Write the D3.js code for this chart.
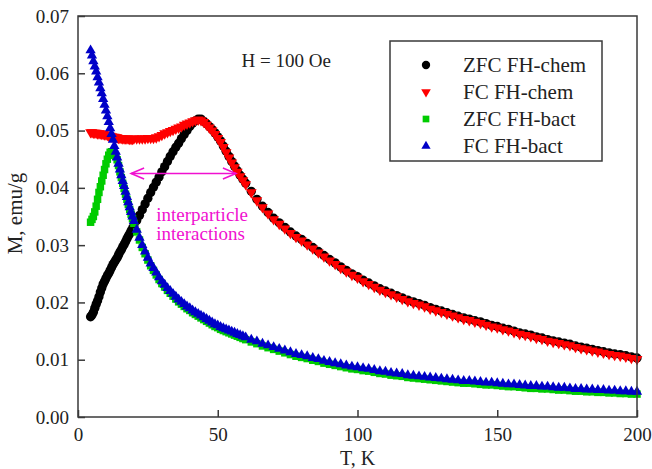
<!DOCTYPE html>
<html>
<head>
<meta charset="utf-8">
<script src="https://cdn.jsdelivr.net/npm/d3@7"></script>
<style>
  body { margin: 0; background: #fff; }
  svg { display: block; }
  svg text { font-family: "Liberation Serif", "Times New Roman", Times, Tinos, "Noto Serif", "Nimbus Roman", FreeSerif, "DejaVu Serif", serif; fill: #222; }
</style>
</head>
<body>
<svg id="chart" width="652" height="469"></svg>
<script>
// Temperature points (K) shared by all four measurement runs
const temperature = [
  4.5, 5, 5.5, 6, 6.5, 7, 7.5, 8, 8.5, 9, 9.5, 10, 10.5, 11, 11.5, 12,
  12.5, 13, 13.5, 14, 14.5, 15, 15.5, 16, 16.5, 17, 17.5, 18, 18.5, 19, 19.5, 20,
  21, 22, 23, 24, 25, 26, 27, 28, 29, 30, 31, 32, 33, 34, 35, 36,
  37, 38, 39, 40, 41, 42, 43, 44, 45, 46, 47, 48, 49, 50, 51, 52,
  53, 54, 55, 56, 57, 58, 59, 60,
  62, 64, 66, 68, 70, 72, 74, 76, 78, 80,
  82, 84, 86, 88, 90, 92, 94, 96, 98, 100,
  102, 104, 106, 108, 110, 112, 114, 116, 118, 120,
  122, 124, 126, 128, 130, 132, 134, 136, 138, 140,
  142, 144, 146, 148, 150, 152, 154, 156, 158, 160,
  162, 164, 166, 168, 170, 172, 174, 176, 178, 180,
  182, 184, 186, 188, 190, 192, 194, 196, 198, 200
];

// Magnetization, emu/g
const zfcChem = [
  0.0175, 0.0178, 0.0183, 0.0190, 0.0197, 0.0203, 0.0210, 0.0218,
  0.0225, 0.0232, 0.0237, 0.0242, 0.0247, 0.0251, 0.0256, 0.0261,
  0.0266, 0.0270, 0.0274, 0.0278, 0.0283, 0.0288, 0.0292, 0.0297,
  0.0301, 0.0306, 0.0311, 0.0316, 0.0320, 0.0325, 0.0329, 0.0334,
  0.0343, 0.0352, 0.0362, 0.0372, 0.0382, 0.0392, 0.0401, 0.0410,
  0.0419, 0.0428, 0.0437, 0.0446, 0.0455, 0.0463, 0.0471, 0.0478,
  0.0486, 0.0493, 0.0500, 0.0507, 0.0513, 0.0517, 0.0520, 0.0520,
  0.0516, 0.0512, 0.0507, 0.0502, 0.0496, 0.0489, 0.0482, 0.0473,
  0.0464, 0.0455, 0.0446, 0.0438, 0.0430, 0.0422, 0.0415, 0.0408,
  0.0394, 0.0380, 0.0368, 0.0357, 0.0347, 0.0339, 0.0331, 0.0323, 0.0316, 0.0310,
  0.0303, 0.0296, 0.0289, 0.0282, 0.0275, 0.0269, 0.0262, 0.0256, 0.0250, 0.0245,
  0.0239, 0.0234, 0.0229, 0.0224, 0.0220, 0.0216, 0.0212, 0.0208, 0.0204, 0.0201,
  0.0198, 0.0195, 0.0191, 0.0188, 0.0185, 0.0182, 0.0179, 0.0176, 0.0173, 0.0171,
  0.0168, 0.0166, 0.0163, 0.0160, 0.0158, 0.0155, 0.0153, 0.0150, 0.0147, 0.0145,
  0.0143, 0.0140, 0.0138, 0.0135, 0.0133, 0.0131, 0.0129, 0.0127, 0.0124, 0.0122,
  0.0120, 0.0118, 0.0116, 0.0114, 0.0112, 0.0110, 0.0109, 0.0107, 0.0105, 0.0103
];

const fcChem = [
  0.0497, 0.0497, 0.0496, 0.0496, 0.0496, 0.0495, 0.0495, 0.0495,
  0.0494, 0.0494, 0.0493, 0.0493, 0.0492, 0.0491, 0.0491, 0.0490,
  0.0489, 0.0489, 0.0488, 0.0488, 0.0487, 0.0487, 0.0487, 0.0486,
  0.0486, 0.0486, 0.0486, 0.0486, 0.0485, 0.0485, 0.0485, 0.0486,
  0.0486, 0.0486, 0.0486, 0.0486, 0.0487, 0.0487, 0.0487, 0.0488,
  0.0490, 0.0492, 0.0495, 0.0497, 0.0499, 0.0501, 0.0503, 0.0505,
  0.0507, 0.0510, 0.0512, 0.0514, 0.0516, 0.0518, 0.0519, 0.0518,
  0.0515, 0.0510, 0.0505, 0.0500, 0.0494, 0.0487, 0.0480, 0.0471,
  0.0462, 0.0453, 0.0444, 0.0436, 0.0428, 0.0420, 0.0413, 0.0406,
  0.0392, 0.0378, 0.0366, 0.0355, 0.0345, 0.0337, 0.0329, 0.0321, 0.0314, 0.0308,
  0.0301, 0.0294, 0.0287, 0.0280, 0.0273, 0.0267, 0.0260, 0.0254, 0.0248, 0.0243,
  0.0237, 0.0232, 0.0227, 0.0222, 0.0218, 0.0214, 0.0210, 0.0206, 0.0202, 0.0199,
  0.0196, 0.0193, 0.0189, 0.0186, 0.0183, 0.0180, 0.0177, 0.0174, 0.0171, 0.0169,
  0.0166, 0.0164, 0.0161, 0.0158, 0.0156, 0.0153, 0.0151, 0.0148, 0.0145, 0.0143,
  0.0141, 0.0138, 0.0136, 0.0133, 0.0131, 0.0129, 0.0127, 0.0125, 0.0122, 0.0120,
  0.0118, 0.0116, 0.0114, 0.0112, 0.0110, 0.0108, 0.0107, 0.0105, 0.0103, 0.0101
];

const zfcBact = [
  0.0340, 0.0345, 0.0350, 0.0358, 0.0368, 0.0380, 0.0392, 0.0402,
  0.0412, 0.0422, 0.0432, 0.0442, 0.0450, 0.0457, 0.0462, 0.0463,
  0.0462, 0.0459, 0.0455, 0.0449, 0.0439, 0.0428, 0.0418, 0.0408,
  0.0399, 0.0389, 0.0380, 0.0371, 0.0362, 0.0354, 0.0346, 0.0338,
  0.0323, 0.0309, 0.0296, 0.0285, 0.0274, 0.0264, 0.0256, 0.0248,
  0.0240, 0.0233, 0.0227, 0.0221, 0.0216, 0.0211, 0.0206, 0.0201,
  0.0197, 0.0193, 0.0189, 0.0186, 0.0182, 0.0179, 0.0176, 0.0173,
  0.0170, 0.0167, 0.0164, 0.0161, 0.0158, 0.0156, 0.0153, 0.0151,
  0.0149, 0.0147, 0.0145, 0.0143, 0.0141, 0.0139, 0.0137, 0.0135,
  0.0131, 0.0128, 0.0124, 0.0121, 0.0118, 0.0115, 0.0112, 0.0109, 0.0106, 0.0104,
  0.0102, 0.0099, 0.0097, 0.0094, 0.0092, 0.0090, 0.0088, 0.0086, 0.0084, 0.0083,
  0.0081, 0.0080, 0.0078, 0.0076, 0.0075, 0.0073, 0.0072, 0.0071, 0.0069, 0.0068,
  0.0067, 0.0066, 0.0065, 0.0064, 0.0063, 0.0062, 0.0061, 0.0060, 0.0059, 0.0059,
  0.0058, 0.0057, 0.0056, 0.0056, 0.0055, 0.0054, 0.0053, 0.0053, 0.0052, 0.0051,
  0.0050, 0.0050, 0.0049, 0.0049, 0.0048, 0.0047, 0.0047, 0.0046, 0.0045, 0.0045,
  0.0044, 0.0044, 0.0043, 0.0043, 0.0042, 0.0042, 0.0041, 0.0041, 0.0040, 0.0040
];

const fcBact = [
  0.0640, 0.0631, 0.0621, 0.0612, 0.0603, 0.0593, 0.0584, 0.0574,
  0.0565, 0.0555, 0.0545, 0.0535, 0.0525, 0.0515, 0.0504, 0.0494,
  0.0484, 0.0473, 0.0463, 0.0453, 0.0442, 0.0432, 0.0422, 0.0412,
  0.0403, 0.0393, 0.0384, 0.0375, 0.0366, 0.0358, 0.0350, 0.0342,
  0.0327, 0.0313, 0.0300, 0.0289, 0.0278, 0.0268, 0.0260, 0.0252,
  0.0244, 0.0237, 0.0231, 0.0225, 0.0220, 0.0215, 0.0210, 0.0205,
  0.0201, 0.0197, 0.0193, 0.0190, 0.0186, 0.0183, 0.0180, 0.0177,
  0.0174, 0.0171, 0.0168, 0.0165, 0.0162, 0.0160, 0.0157, 0.0155,
  0.0153, 0.0151, 0.0149, 0.0147, 0.0145, 0.0143, 0.0141, 0.0139,
  0.0135, 0.0132, 0.0128, 0.0125, 0.0122, 0.0119, 0.0116, 0.0113, 0.0110, 0.0108,
  0.0106, 0.0103, 0.0101, 0.0098, 0.0096, 0.0094, 0.0092, 0.0090, 0.0088, 0.0087,
  0.0085, 0.0084, 0.0082, 0.0080, 0.0079, 0.0077, 0.0076, 0.0075, 0.0073, 0.0072,
  0.0071, 0.0070, 0.0069, 0.0068, 0.0067, 0.0066, 0.0065, 0.0064, 0.0063, 0.0063,
  0.0062, 0.0061, 0.0060, 0.0060, 0.0059, 0.0058, 0.0057, 0.0057, 0.0056, 0.0055,
  0.0054, 0.0054, 0.0053, 0.0053, 0.0052, 0.0051, 0.0051, 0.0050, 0.0049, 0.0049,
  0.0048, 0.0048, 0.0047, 0.0047, 0.0046, 0.0046, 0.0045, 0.0045, 0.0044, 0.0044
];

const seriesNames = ["ZFC FH-chem", "FC FH-chem", "ZFC FH-bact", "FC FH-bact"];
const xTicks = [0, 50, 100, 150, 200];
const yTicks = [0.00, 0.01, 0.02, 0.03, 0.04, 0.05, 0.06, 0.07];

// Annotation: field label, and the arrow marking the interaction shift (data units)
const fieldLabel = "H = 100 Oe";
const arrowSpan = [19, 56.5];
const arrowLevel = 0.0425;
const noteLines = ["interparticle", "interactions"];

const series = [
  { name: seriesNames[0], values: zfcChem, color: "#000000", symbol: d3.symbolCircle, size: 68, rotate: 0 },
  { name: seriesNames[1], values: fcChem,  color: "#ff0000", symbol: d3.symbolTriangle, size: 50, rotate: 180 },
  { name: seriesNames[2], values: zfcBact, color: "#00cc00", symbol: d3.symbolSquare, size: 56, rotate: 0 },
  { name: seriesNames[3], values: fcBact,  color: "#0000c8", symbol: d3.symbolTriangle, size: 46, rotate: 0 }
];

const serif = "'Liberation Serif', 'Times New Roman', Times, Tinos, 'Noto Serif', 'Nimbus Roman', FreeSerif, 'DejaVu Serif', serif";
const svg = d3.select("#chart");
const plot = { left: 78, right: 637, top: 16, bottom: 417 };

const x = d3.scaleLinear().domain([0, 200]).range([plot.left, plot.right]);
const y = d3.scaleLinear().domain([0, 0.07]).range([plot.bottom, plot.top]);

const axisColor = "#3a3a3a";

// Data markers
series.forEach(s => {
  const sym = d3.symbol().type(s.symbol).size(s.size);
  svg.append("g")
    .selectAll("path")
    .data(temperature.map((t, i) => [t, s.values[i]]))
    .join("path")
    .attr("d", sym)
    .attr("fill", s.color)
    .attr("transform", d => `translate(${x(d[0])},${y(d[1])}) rotate(${s.rotate})`);
});

// Axes with inward ticks
const xAxis = d3.axisBottom(x).tickValues(xTicks).tickFormat(d3.format("d"))
  .tickSizeInner(-7).tickSizeOuter(0).tickPadding(11);
const yAxis = d3.axisLeft(y).tickValues(yTicks).tickFormat(d3.format(".2f"))
  .tickSizeInner(-7).tickSizeOuter(0).tickPadding(9);

const gx = svg.append("g").attr("transform", `translate(0,${plot.bottom})`).call(xAxis);
const gy = svg.append("g").attr("transform", `translate(${plot.left},0)`).call(yAxis);
[gx, gy].forEach(g => {
  g.attr("font-family", serif).attr("font-size", 19);
  g.select(".domain").remove();
  g.selectAll(".tick line").attr("stroke", axisColor).attr("stroke-width", 1.5);
  g.selectAll(".tick text").attr("fill", "#222");
});

// Plot frame
svg.append("rect")
  .attr("x", plot.left).attr("y", plot.top)
  .attr("width", plot.right - plot.left).attr("height", plot.bottom - plot.top)
  .attr("fill", "none").attr("stroke", axisColor).attr("stroke-width", 1.5);

// Axis titles
svg.append("text")
  .attr("x", (plot.left + plot.right) / 2).attr("y", 465)
  .attr("text-anchor", "middle").attr("font-size", 20)
  .text("T, K");
svg.append("text")
  .attr("transform", `translate(22,${(plot.top + plot.bottom) / 2 - 3}) rotate(-90)`)
  .attr("text-anchor", "middle").attr("font-size", 21)
  .text("M, emu/g");

// Field label
svg.append("text")
  .attr("x", x(58.5)).attr("y", y(0.0611))
  .attr("font-size", 19)
  .text(fieldLabel);

// Double-headed arrow and note
const magenta = "#f010d0";
const ax0 = x(arrowSpan[0]), ax1 = x(arrowSpan[1]), ay = y(arrowLevel);
const arrow = svg.append("g").attr("stroke", magenta).attr("stroke-width", 1.6).attr("fill", "none");
arrow.append("line").attr("x1", ax0).attr("x2", ax1).attr("y1", ay).attr("y2", ay);
arrow.append("path").attr("d", `M${ax0 + 13},${ay - 5.5} L${ax0},${ay} L${ax0 + 13},${ay + 5.5}`);
arrow.append("path").attr("d", `M${ax1 - 13},${ay - 5.5} L${ax1},${ay} L${ax1 - 13},${ay + 5.5}`);

svg.append("g").selectAll("text")
  .data(noteLines)
  .join("text")
  .attr("x", x(28))
  .attr("y", (d, i) => y(0.0342) + i * 19)
  .attr("font-size", 19)
  .style("fill", magenta)
  .text(d => d);

// Legend
const legend = svg.append("g");
legend.append("rect")
  .attr("x", 390).attr("y", 41).attr("width", 212).attr("height", 120)
  .attr("fill", "#fff").attr("stroke", axisColor).attr("stroke-width", 1.5);
series.forEach((s, i) => {
  const cy = 65 + i * 27;
  legend.append("path")
    .attr("d", d3.symbol().type(s.symbol).size(s.size * 0.8)())
    .attr("fill", s.color)
    .attr("transform", `translate(426,${cy}) rotate(${s.rotate})`);
  legend.append("text")
    .attr("x", 463).attr("y", cy + 7)
    .attr("font-size", 21)
    .text(s.name);
});
</script>
</body>
</html>
